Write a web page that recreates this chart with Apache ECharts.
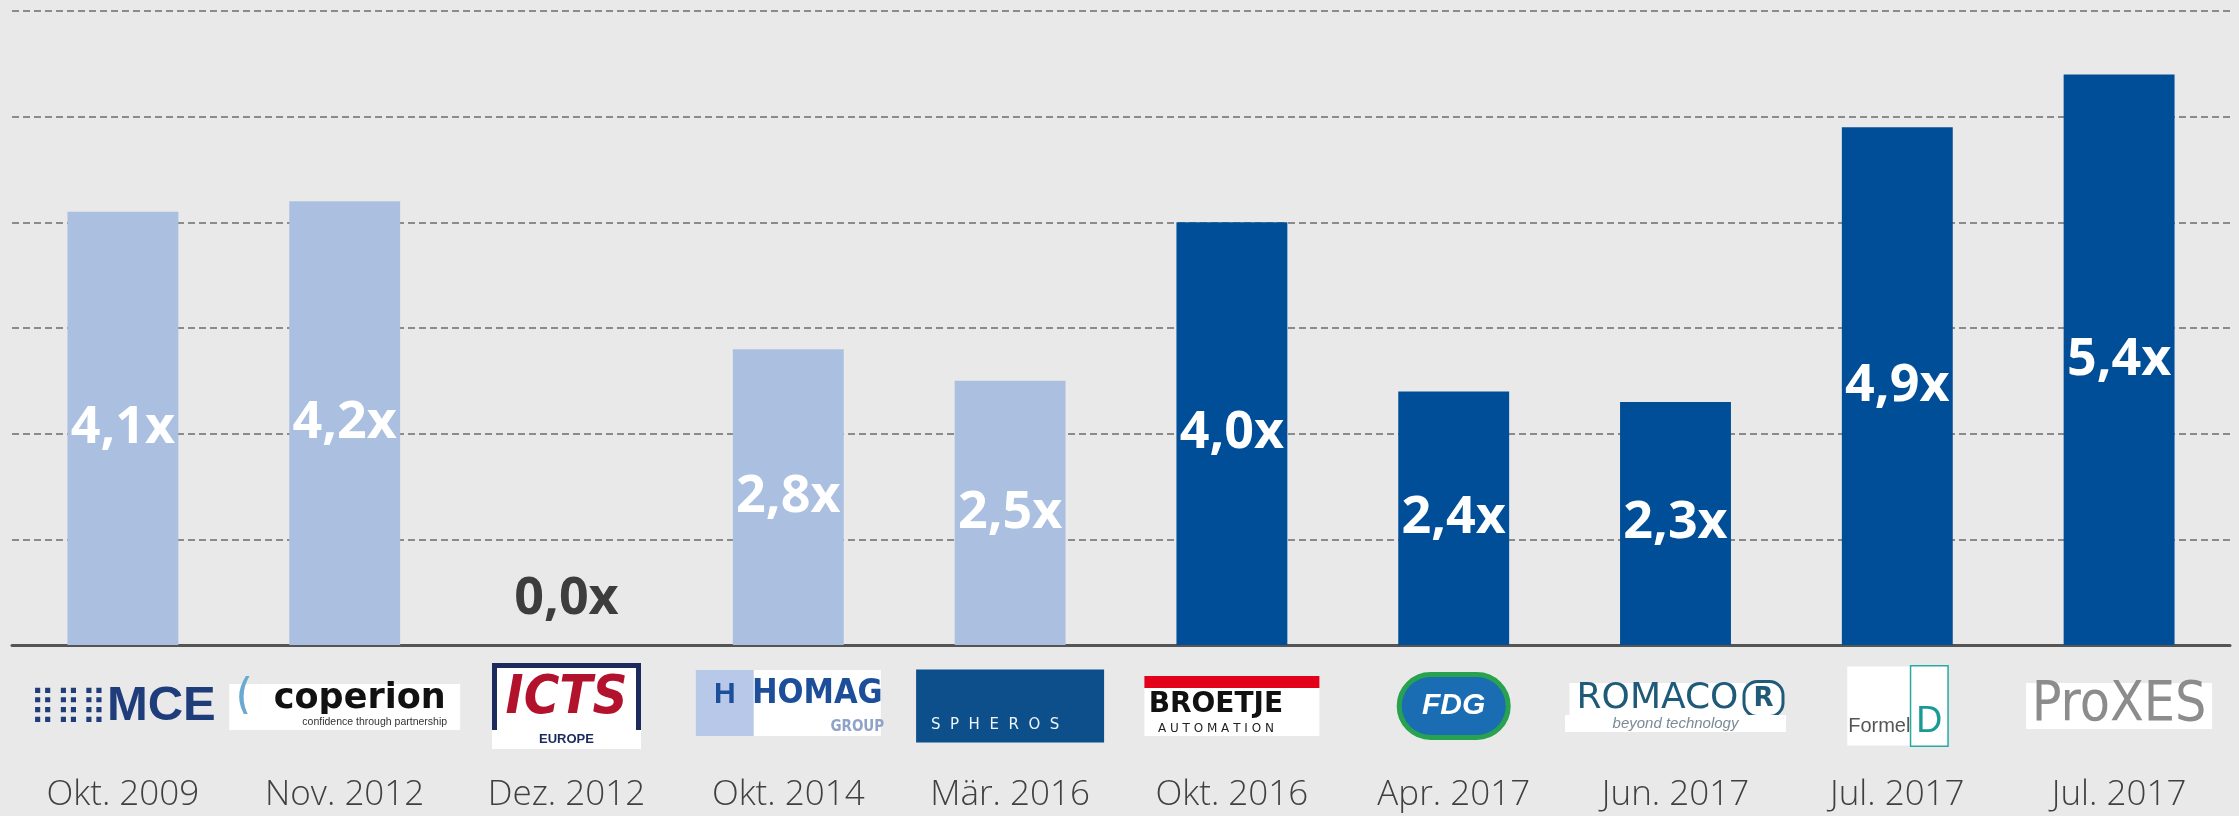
<!DOCTYPE html>
<html>
<head>
<meta charset="utf-8">
<script src="https://cdn.jsdelivr.net/npm/echarts@6.0.0/dist/echarts.min.js"></script>
<style>
  html, body { margin: 0; padding: 0; background: #e9e9e9; }
  #chart { width: 2239px; height: 816px; }
</style>
</head>
<body>
<div id="chart"></div>
<script>
// Multiple je Transaktion (Exit-Datum, Unternehmen)
const dates = ['Okt. 2009', 'Nov. 2012', 'Dez. 2012', 'Okt. 2014', 'Mär. 2016', 'Okt. 2016', 'Apr. 2017', 'Jun. 2017', 'Jul. 2017', 'Jul. 2017'];
const companies = ['MCE', 'coperion', 'ICTS', 'HOMAG', 'SPHEROS', 'BROETJE', 'FDG', 'ROMACO', 'Formel D', 'ProXES'];
const multiples = [4.1, 4.2, 0.0, 2.8, 2.5, 4.0, 2.4, 2.3, 4.9, 5.4];
const funds = ['alt', 'alt', 'alt', 'alt', 'alt', 'neu', 'neu', 'neu', 'neu', 'neu'];
const yTicks = [0, 1, 2, 3, 4, 5, 6];

const fundColor = { alt: '#abc0e1', neu: '#004e98' };
const condensed = "'DejaVu Sans Condensed', 'Liberation Sans', sans-serif";

// Logos als Text nachgebaut (rich text), Block immer 86px hoch
function logoMarkup(name) {
  switch (name) {
    case 'MCE': return '{mceDots|⣿⣿⣿}{mce|MCE}';
    case 'coperion': return '{cpSw|(}{cp|coperion}\n{cpSub|confidence through partnership}';
    case 'ICTS': return '{icts|ICTS}\n{ictsEu|EUROPE}';
    case 'HOMAG': return '{hmL|H}{hm|HOMAG}\n{hmL2| }{hmG|GROUP}';
    case 'SPHEROS': return '{sph|S  P  H  E  R  O  S}';
    case 'BROETJE': return '{brTop| }\n{br|BROETJE}\n{brSub|A U T O M A T I O N}';
    case 'FDG': return '{fdg|FDG}';
    case 'ROMACO': return '{rom|ROMACO}{romR|R}\n{romSub|beyond technology}';
    case 'Formel D': return '{fmA|Formel}{fmD|D}';
    case 'ProXES': return '{px|ProXES}';
  }
  return name;
}

const richStyles = {
  d: { fontFamily: 'Open Sans', fontWeight: 300, fontSize: 35, color: '#404040', lineHeight: 92, align: 'center' },
  // MCE
  mceDots: { fontFamily: 'DejaVu Sans', fontSize: 35, color: '#1f3d7a', lineHeight: 86, align: 'center' },
  mce: { fontFamily: 'Liberation Sans', fontWeight: 'bold', fontSize: 49, color: '#1f3d7a', lineHeight: 86, align: 'center' },
  // coperion
  cpSw: { fontFamily: 'DejaVu Sans', fontSize: 46, color: '#6aaad0', backgroundColor: '#fff', width: 30, height: 30, align: 'center', lineHeight: 51, verticalAlign: 'bottom' },
  cp: { fontFamily: 'DejaVu Sans', fontWeight: 'bold', fontSize: 35, color: '#111', backgroundColor: '#fff', width: 201, height: 30, align: 'center', lineHeight: 51, verticalAlign: 'bottom' },
  cpSub: { fontFamily: 'Liberation Sans', fontSize: 10.5, color: '#333', backgroundColor: '#fff', width: 171, height: 16, align: 'center', lineHeight: 35, verticalAlign: 'top', padding: [0, 0, 0, 60] },
  // ICTS
  icts: { fontFamily: condensed, fontWeight: 'bold', fontStyle: 'italic', fontSize: 54, color: '#b3122c', backgroundColor: '#fff', borderColor: '#1c2a5c', borderWidth: 5, width: 139, height: 62, align: 'center', lineHeight: 67, verticalAlign: 'bottom' },
  ictsEu: { fontFamily: 'Liberation Sans', fontWeight: 'bold', fontSize: 13, color: '#1c2a5c', backgroundColor: '#fff', width: 149, height: 19, align: 'center', lineHeight: 19, verticalAlign: 'top' },
  // HOMAG
  hmL: { fontFamily: 'Liberation Sans', fontWeight: 'bold', fontSize: 30, color: '#1d4e9a', backgroundColor: '#b8c8e8', width: 58, height: 49, align: 'center', lineHeight: 56, verticalAlign: 'bottom' },
  hm: { fontFamily: condensed, fontWeight: 'bold', fontSize: 34, color: '#1d4e9a', backgroundColor: '#fff', width: 127, height: 49, align: 'center', lineHeight: 56, verticalAlign: 'bottom' },
  hmL2: { fontSize: 10, backgroundColor: '#b8c8e8', width: 58, height: 17, lineHeight: 30, verticalAlign: 'top', align: 'center' },
  hmG: { fontFamily: condensed, fontWeight: 'bold', fontSize: 15, color: '#8fa3c9', backgroundColor: '#fff', width: 47, height: 17, padding: [0, 0, 0, 80], align: 'center', lineHeight: 30, verticalAlign: 'top' },
  // SPHEROS
  sph: { fontFamily: 'DejaVu Sans', fontSize: 15, color: '#eef5fb', backgroundColor: '#0d4f8b', width: 158, height: 30, padding: [41, 30, 2, 0], lineHeight: 86, align: 'center' },
  // BROETJE
  brTop: { fontSize: 8, backgroundColor: '#e2001a', width: 175, height: 12, lineHeight: 25, verticalAlign: 'bottom', align: 'center' },
  br: { fontFamily: 'DejaVu Sans', fontWeight: 'bold', fontSize: 28, color: '#111', backgroundColor: '#fff', width: 143, height: 34, padding: [0, 32, 0, 0], lineHeight: 34, align: 'center' },
  brSub: { fontFamily: 'DejaVu Sans', fontSize: 12, color: '#222', backgroundColor: '#fff', width: 143, height: 14, padding: [0, 32, 0, 0], lineHeight: 27, verticalAlign: 'top', align: 'center' },
  // FDG
  fdg: { fontFamily: 'Liberation Sans', fontWeight: 'bold', fontStyle: 'italic', fontSize: 30, color: '#fff', backgroundColor: '#1a6db3', borderColor: '#27a24e', borderWidth: 5, borderRadius: 34, width: 104, height: 58, align: 'center', lineHeight: 86 },
  // ROMACO
  rom: { fontFamily: 'DejaVu Sans', fontSize: 36, color: '#1f5a78', backgroundColor: '#fff', width: 176, height: 32, align: 'center', lineHeight: 52, verticalAlign: 'bottom' },
  romR: { fontFamily: 'DejaVu Sans', fontWeight: 'bold', fontSize: 26, color: '#1f5a78', backgroundColor: '#fff', borderColor: '#1f5a78', borderWidth: 3, borderRadius: 12, width: 36, height: 32, align: 'center', lineHeight: 52, verticalAlign: 'bottom' },
  romSub: { fontFamily: 'Liberation Sans', fontStyle: 'italic', fontSize: 15, color: '#7a8a94', backgroundColor: '#fff', width: 221, height: 17, align: 'center', lineHeight: 34, verticalAlign: 'top' },
  // Formel D
  fmA: { fontFamily: 'Liberation Sans', fontSize: 20, color: '#555', backgroundColor: '#fff', width: 64, height: 24, padding: [48, 0, 7, 0], align: 'center', lineHeight: 86 },
  fmD: { fontFamily: 'Liberation Sans', fontSize: 36, color: '#1a9a94', backgroundColor: '#fff', borderColor: '#2aa9a3', borderWidth: 1.5, width: 36, height: 36, padding: [38, 0, 5, 0], align: 'center', lineHeight: 86 },
  // ProXES
  px: { fontFamily: condensed, fontSize: 55, color: '#8c8c8c', backgroundColor: '#fff', width: 186, height: 46, align: 'center', lineHeight: 86 }
};

const chart = echarts.init(document.getElementById('chart'));

const seriesData = multiples.map(function (v) {
  if (v === 0) {
    return { value: v, label: { position: 'top', distance: 20, color: '#3d3d3d' } };
  }
  return v;
});

const option = {
  backgroundColor: '#e9e9e9',
  animation: false,
  grid: { left: 12, right: 9, top: 11, bottom: 171, containLabel: false },
  xAxis: {
    type: 'category',
    data: dates,
    axisLine: { lineStyle: { color: '#555', width: 3 } },
    axisTick: { show: false },
    axisLabel: {
      interval: 0,
      margin: 18,
      formatter: function (value, index) {
        return logoMarkup(companies[index]) + '\n{d|' + value + '}';
      },
      rich: richStyles
    }
  },
  yAxis: {
    type: 'value',
    min: yTicks[0],
    max: yTicks[yTicks.length - 1],
    interval: 1,
    axisLine: { show: false },
    axisTick: { show: false },
    axisLabel: { show: false },
    splitLine: { lineStyle: { color: '#6c6c6c', width: 1.6, type: [7, 4] } }
  },
  series: [{
    type: 'bar',
    data: seriesData,
    barWidth: '50%',
    itemStyle: {
      color: function (p) { return fundColor[funds[p.dataIndex]]; }
    },
    label: {
      show: true,
      position: 'inside',
      fontFamily: 'Open Sans',
      fontWeight: 'bold',
      fontSize: 52,
      color: '#fff',
      formatter: function (p) { return p.value.toFixed(1).replace('.', ',') + 'x'; }
    }
  }]
};

chart.setOption(option);
</script>
</body>
</html>
